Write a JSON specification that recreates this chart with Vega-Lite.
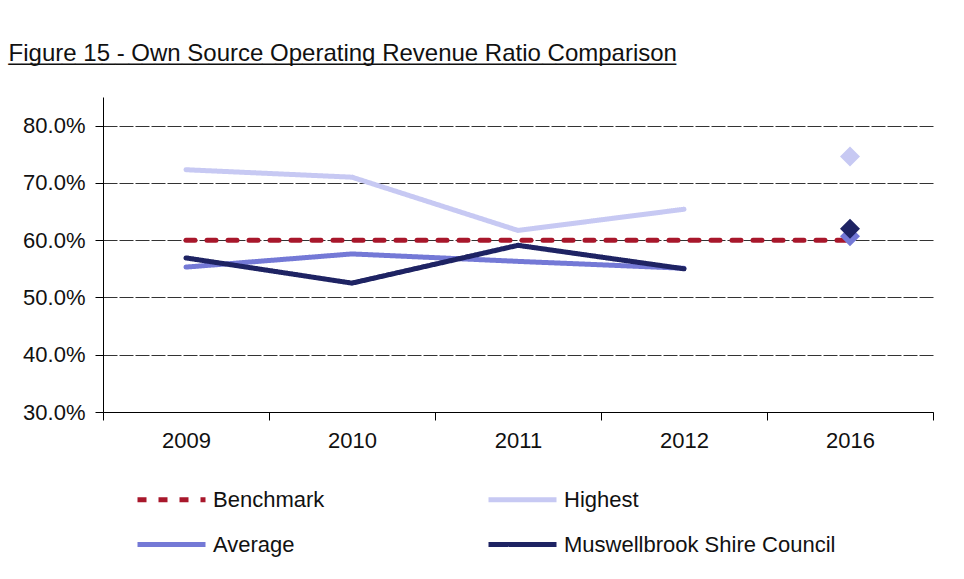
{
  "$schema": "https://vega.github.io/schema/vega-lite/v6.json",
  "width": 830,
  "height": 315,
  "autosize": {"type": "none"},
  "padding": {"left": 103, "top": 97, "right": 31, "bottom": 167},
  "background": "white",
  "title": {
    "text": "Figure 15 - Own Source Operating Revenue Ratio Comparison",
    "subtitle": "__________________________________________________",
    "anchor": "start",
    "frame": "bounds",
    "font": "Liberation Sans, Arial, sans-serif",
    "fontSize": 24,
    "fontWeight": "normal",
    "color": "#111111",
    "subtitleFont": "Liberation Sans, Arial, sans-serif",
    "subtitleFontSize": 24,
    "subtitleColor": "#111111",
    "subtitlePadding": -25,
    "offset": 30,
    "dx": -14
  },
  "data": {
    "values": [
      {"year": "2009", "series": "Highest", "value": 0.723, "type": "trend"},
      {"year": "2010", "series": "Highest", "value": 0.710, "type": "trend"},
      {"year": "2011", "series": "Highest", "value": 0.617, "type": "trend"},
      {"year": "2012", "series": "Highest", "value": 0.654, "type": "trend"},
      {"year": "2016", "series": "Highest", "value": 0.746, "type": "marker"},
      {"year": "2009", "series": "Average", "value": 0.553, "type": "trend"},
      {"year": "2010", "series": "Average", "value": 0.576, "type": "trend"},
      {"year": "2011", "series": "Average", "value": 0.563, "type": "trend"},
      {"year": "2012", "series": "Average", "value": 0.551, "type": "trend"},
      {"year": "2016", "series": "Average", "value": 0.607, "type": "marker"},
      {"year": "2009", "series": "Muswellbrook Shire Council", "value": 0.569, "type": "trend"},
      {"year": "2010", "series": "Muswellbrook Shire Council", "value": 0.525, "type": "trend"},
      {"year": "2011", "series": "Muswellbrook Shire Council", "value": 0.591, "type": "trend"},
      {"year": "2012", "series": "Muswellbrook Shire Council", "value": 0.550, "type": "trend"},
      {"year": "2016", "series": "Muswellbrook Shire Council", "value": 0.620, "type": "marker"},
      {"year": "2009", "series": "Benchmark", "value": 0.60, "type": "trend"},
      {"year": "2010", "series": "Benchmark", "value": 0.60, "type": "trend"},
      {"year": "2011", "series": "Benchmark", "value": 0.60, "type": "trend"},
      {"year": "2012", "series": "Benchmark", "value": 0.60, "type": "trend"},
      {"year": "2016", "series": "Benchmark", "value": 0.60, "type": "trend"}
    ]
  },
  "encoding": {
    "x": {
      "field": "year",
      "type": "ordinal",
      "sort": null,
      "scale": {"type": "band", "paddingInner": 0, "paddingOuter": 0},
      "axis": {"title": null, "labelAngle": 0, "tickBand": "extent", "tickSize": 8, "labelPadding": 10, "grid": false}
    },
    "y": {
      "field": "value",
      "type": "quantitative",
      "scale": {"domain": [0.3, 0.85], "nice": false, "zero": false},
      "axis": {
        "title": null,
        "values": [0.3, 0.4, 0.5, 0.6, 0.7, 0.8],
        "format": ".1%",
        "tickSize": 8,
        "labelPadding": 10,
        "grid": true,
        "gridColor": "#333333",
        "gridDash": [14, 2],
        "gridWidth": 1
      }
    },
    "color": {
      "field": "series",
      "type": "nominal",
      "title": null,
      "scale": {
        "domain": ["Benchmark", "Highest", "Average", "Muswellbrook Shire Council"],
        "range": ["#a8172b", "#c7c9f3", "#7479d6", "#1e2363"]
      }
    }
  },
  "layer": [
    {
      "transform": [{"filter": "datum.type == 'trend'"}],
      "mark": {"type": "line", "strokeWidth": 5, "strokeCap": "round"},
      "encoding": {
        "strokeDash": {
          "field": "series",
          "type": "nominal",
          "title": null,
          "scale": {
            "domain": ["Benchmark", "Highest", "Average", "Muswellbrook Shire Council"],
            "range": [[9, 12], [1, 0], [1, 0], [1, 0]]
          }
        }
      }
    },
    {
      "transform": [{"filter": "datum.type == 'marker'"}],
      "mark": {"type": "point", "shape": "diamond", "filled": true, "size": 400, "opacity": 1}
    }
  ],
  "config": {
    "view": {"stroke": null},
    "axis": {
      "domainColor": "#000000",
      "tickColor": "#000000",
      "labelFont": "Liberation Sans, Arial, sans-serif",
      "labelFontSize": 22,
      "labelColor": "#111111"
    },
    "legend": {
      "orient": "none",
      "legendX": 49,
      "legendY": 383,
      "columns": 2,
      "direction": "horizontal",
      "columnPadding": 153,
      "rowPadding": 14,
      "symbolType": "M-2,0L2,0",
      "symbolSize": 1156,
      "symbolStrokeWidth": 5,
      "labelOffset": 22,
      "labelFont": "Liberation Sans, Arial, sans-serif",
      "labelFontSize": 22,
      "labelColor": "#111111",
      "labelLimit": 400
    }
  }
}
